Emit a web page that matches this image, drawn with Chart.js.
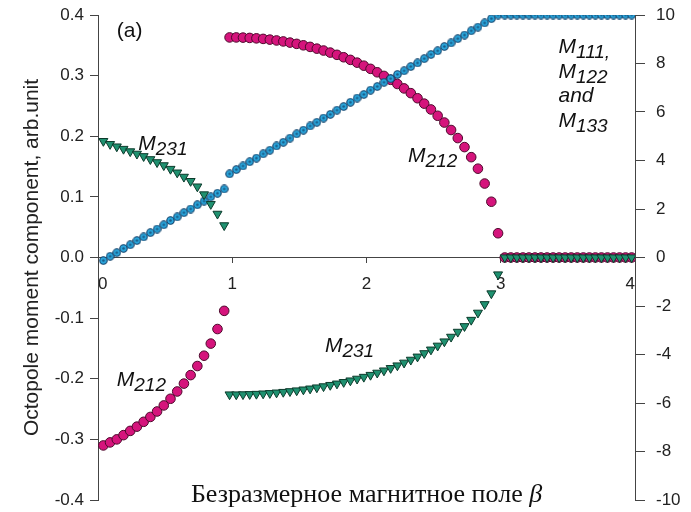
<!DOCTYPE html>
<html>
<head>
<meta charset="utf-8">
<script src="https://cdn.jsdelivr.net/npm/chart.js@4.4.1/dist/chart.umd.min.js"></script>
<style>
  body { margin: 0; background: #fff; }
  canvas { display: block; }
</style>
</head>
<body>
<canvas id="octChart" width="691" height="512"></canvas>
<script>
// Field values (beta) for the three branches
const betaA = [0.04, 0.09, 0.14, 0.19, 0.24, 0.29, 0.34, 0.39, 0.44, 0.49, 0.54, 0.59, 0.64, 0.69, 0.74, 0.79, 0.84, 0.89, 0.94];
const betaB = [0.98, 1.03, 1.08, 1.13, 1.18, 1.23, 1.28, 1.33, 1.38, 1.43, 1.48, 1.53, 1.58, 1.63, 1.68, 1.73, 1.78, 1.83, 1.88, 1.93,
  1.98, 2.03, 2.08, 2.13, 2.18, 2.23, 2.28, 2.33, 2.38, 2.43, 2.48, 2.53, 2.58, 2.63, 2.68, 2.73, 2.78, 2.83, 2.88, 2.93, 2.98];
const betaC = [3.03, 3.075, 3.12, 3.165, 3.21, 3.255, 3.3, 3.345, 3.39, 3.435, 3.48, 3.525, 3.57, 3.615, 3.66, 3.705, 3.75, 3.795, 3.84, 3.885, 3.93, 3.975];

// M111, M122, M133 (blue)
const m111A = [-0.005, 0.002, 0.008, 0.015, 0.021, 0.028, 0.034, 0.041, 0.047, 0.054, 0.061, 0.067, 0.074, 0.08, 0.087, 0.093, 0.1, 0.106, 0.113];
const m111B = [0.138, 0.145, 0.151, 0.158, 0.164, 0.171, 0.177, 0.184, 0.19, 0.197, 0.204, 0.21, 0.217, 0.223, 0.23, 0.236, 0.243, 0.249, 0.256, 0.263,
  0.269, 0.276, 0.282, 0.289, 0.295, 0.302, 0.308, 0.315, 0.321, 0.328, 0.335, 0.341, 0.348, 0.354, 0.361, 0.367, 0.374, 0.38, 0.387, 0.394, 0.4];
const m111C = [0.4, 0.4, 0.4, 0.4, 0.4, 0.4, 0.4, 0.4, 0.4, 0.4, 0.4, 0.4, 0.4, 0.4, 0.4, 0.4, 0.4, 0.4, 0.4, 0.4, 0.4, 0.4];

// M212 (magenta)
const m212A = [-0.31, -0.305, -0.3, -0.293, -0.286, -0.279, -0.271, -0.263, -0.254, -0.244, -0.233, -0.221, -0.208, -0.194, -0.179, -0.162, -0.142, -0.118, -0.088];
const m212B = [0.363, 0.363, 0.3627, 0.3622, 0.3615, 0.3606, 0.3594, 0.358, 0.3564, 0.3545, 0.3524, 0.35, 0.3474, 0.3445, 0.3414, 0.338, 0.3343, 0.3303, 0.326, 0.3214,
  0.3164, 0.3112, 0.3055, 0.2995, 0.2931, 0.2862, 0.2789, 0.2711, 0.2627, 0.2538, 0.2442, 0.2338, 0.2226, 0.2103, 0.197, 0.1821, 0.1655, 0.1465, 0.122, 0.092, 0.04];
const m212C = [0, 0, 0, 0, 0, 0, 0, 0, 0, 0, 0, 0, 0, 0, 0, 0, 0, 0, 0, 0, 0, 0];

// M231 (green)
const m231A = [0.192, 0.187, 0.183, 0.179, 0.175, 0.171, 0.167, 0.162, 0.157, 0.152, 0.146, 0.14, 0.133, 0.126, 0.117, 0.104, 0.088, 0.072, 0.053];
const m231B = [-0.226, -0.226, -0.2258, -0.2255, -0.2251, -0.2245, -0.2238, -0.2229, -0.2219, -0.2207, -0.2194, -0.2179, -0.2163, -0.2145, -0.2126, -0.2104, -0.2081, -0.2056, -0.203, -0.2001,
  -0.197, -0.1938, -0.1902, -0.1865, -0.1825, -0.1782, -0.1736, -0.1688, -0.1636, -0.158, -0.152, -0.1456, -0.1386, -0.1309, -0.1227, -0.1134, -0.103, -0.0912, -0.0771, -0.0593, -0.028];
const m231C = [0, 0, 0, 0, 0, 0, 0, 0, 0, 0, 0, 0, 0, 0, 0, 0, 0, 0, 0, 0, 0, 0];

// Tick labels
const xTicks = [0, 1, 2, 3, 4];
const yTicks = [-0.4, -0.3, -0.2, -0.1, 0, 0.1, 0.2, 0.3, 0.4];
const y2Ticks = [-10, -8, -6, -4, -2, 0, 2, 4, 6, 8, 10];

// Text labels on the plot
const notes = [
  { main: '(a)', x: 0.14, y: 0.364, italic: false },
  { main: 'M', sub: '231', x: 0.30, y: 0.178 },
  { main: 'M', sub: '212', x: 2.31, y: 0.158 },
  { main: 'M', sub: '111,', x: 3.43, y: 0.3375 },
  { main: 'M', sub: '122', x: 3.43, y: 0.296 },
  { main: 'and', x: 3.43, y: 0.257 },
  { main: 'M', sub: '133', x: 3.43, y: 0.216 },
  { main: 'M', sub: '212', x: 0.14, y: -0.212 },
  { main: 'M', sub: '231', x: 1.69, y: -0.156 }
];
const xTitle = 'Безразмерное магнитное поле ';

function toPoints(xs, ys) {
  return xs.map((b, i) => ({ x: b, y: ys[i] }));
}

// blue ring marker
function ringDot() {
  const c = document.createElement('canvas');
  c.width = c.height = 9;
  const g = c.getContext('2d');
  g.beginPath();
  g.arc(4.5, 4.5, 3.7, 0, Math.PI * 2);
  g.fillStyle = '#2ba7dd';
  g.fill();
  g.lineWidth = 1.1;
  g.strokeStyle = '#12416a';
  g.stroke();
  g.beginPath();
  g.arc(4.5, 4.5, 1.3, 0, Math.PI * 2);
  g.fillStyle = '#185c88';
  g.fill();
  return c;
}

const sans = '"Liberation Sans", Arial, Helvetica, sans-serif';
const serif = '"Liberation Serif", "Times New Roman", serif';
Chart.defaults.font.family = sans;
Chart.defaults.color = '#222';

const annotate = {
  id: 'annotate',
  afterDraw(chart) {
    const { ctx, scales: { x, y } } = chart;
    ctx.save();
    ctx.fillStyle = '#111';
    ctx.textAlign = 'left';
    ctx.textBaseline = 'alphabetic';
    notes.forEach(n => {
      let px = x.getPixelForValue(n.x);
      const py = y.getPixelForValue(n.y);
      ctx.font = (n.italic === false ? '' : 'italic ') + '21px ' + sans;
      ctx.fillText(n.main, px, py);
      if (n.sub) {
        px += ctx.measureText(n.main).width;
        ctx.font = 'italic 19px ' + sans;
        ctx.fillText(n.sub, px, py + 5);
      }
    });
    // x axis title, drawn inside the bottom of the plot
    ctx.font = '26px ' + serif;
    const w1 = ctx.measureText(xTitle).width;
    ctx.font = 'italic 26px ' + serif;
    const w2 = ctx.measureText('β').width;
    const start = (chart.chartArea.left + chart.chartArea.right) / 2 - (w1 + w2) / 2;
    ctx.font = '26px ' + serif;
    ctx.fillText(xTitle, start, 502);
    ctx.font = 'italic 26px ' + serif;
    ctx.fillText('β', start + w1, 502);
    ctx.restore();
  }
};

const axisColor = '#444';

// keep the plot box fixed: no extra room for the overhanging end labels
function fixLeft(s) { s.width = 98; s.paddingTop = 0; s.paddingBottom = 0; }
function fixRight(s) { s.width = 56; s.paddingTop = 0; s.paddingBottom = 0; }

new Chart(document.getElementById('octChart'), {
  type: 'scatter',
  data: {
    datasets: [
      {
        label: 'M231',
        data: toPoints(betaA, m231A).concat(toPoints(betaB, m231B), toPoints(betaC, m231C)),
        pointStyle: 'triangle',
        rotation: 180,
        pointRadius: 5.2,
        backgroundColor: '#1f9170',
        borderColor: '#0c3a2b',
        borderWidth: 1
      },
      {
        label: 'M111, M122, M133',
        data: toPoints(betaA, m111A).concat(toPoints(betaB, m111B), toPoints(betaC, m111C)),
        pointStyle: ringDot(),
        pointRadius: 4
      },
      {
        label: 'M212',
        data: toPoints(betaA, m212A).concat(toPoints(betaB, m212B), toPoints(betaC, m212C)),
        pointStyle: 'circle',
        pointRadius: 4.8,
        backgroundColor: '#d5147c',
        borderColor: '#4d0a2c',
        borderWidth: 1
      }
    ]
  },
  options: {
    responsive: false,
    animation: false,
    layout: { padding: { top: 15, bottom: 12, left: 0, right: 0 } },
    plugins: { legend: { display: false }, tooltip: { enabled: false } },
    scales: {
      x: {
        type: 'linear',
        position: { y: 0 },
        min: 0,
        max: 4,
        afterBuildTicks: s => { s.ticks = xTicks.map(v => ({ value: v })); },
        ticks: { font: { size: 17 }, padding: 12, align: 'inner', maxRotation: 0 },
        grid: { drawOnChartArea: false, tickLength: 5, color: axisColor },
        border: { color: axisColor, width: 1 }
      },
      y: {
        position: 'left',
        min: -0.4,
        max: 0.4,
        afterBuildTicks: s => { s.ticks = yTicks.map(v => ({ value: v })); },
        afterFit: fixLeft,
        ticks: { font: { size: 17 }, padding: 6, callback: v => v.toFixed(1) },
        grid: { drawOnChartArea: false, tickLength: 8, color: axisColor },
        border: { color: axisColor, width: 1 },
        title: {
          display: true,
          text: 'Octopole moment component, arb.unit',
          font: { size: 21 },
          color: '#222',
          padding: { top: 20, bottom: 0 }
        }
      },
      y2: {
        position: 'right',
        min: -10,
        max: 10,
        afterBuildTicks: s => { s.ticks = y2Ticks.map(v => ({ value: v })); },
        afterFit: fixRight,
        ticks: { font: { size: 17 }, padding: 11 },
        grid: { drawOnChartArea: false, tickLength: 10, color: axisColor },
        border: { color: axisColor, width: 1 }
      }
    }
  },
  plugins: [annotate]
});
</script>
</body>
</html>
